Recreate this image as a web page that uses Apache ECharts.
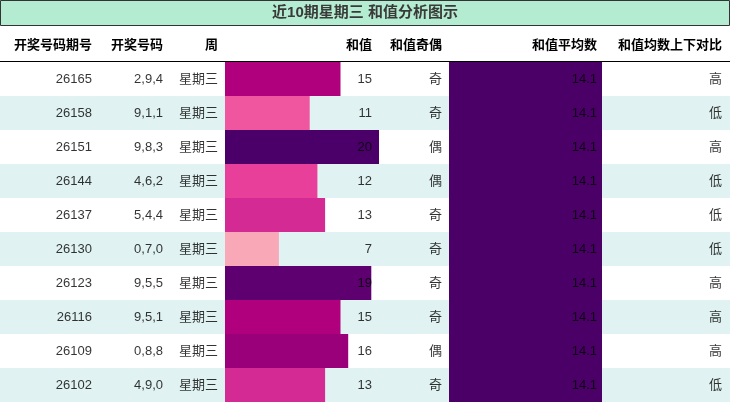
<!DOCTYPE html>
<html><head><meta charset="utf-8">
<script src="https://cdn.jsdelivr.net/npm/echarts@6/dist/echarts.min.js"></script>
<style>body{margin:0}#chart{width:730px;height:403px}</style></head>
<body><div id="chart"></div>
<script>
var periods = ['26165','26158','26151','26144','26137','26130','26123','26116','26109','26102'];
var numbers = ['2,9,4','9,1,1','9,8,3','4,6,2','5,4,4','0,7,0','9,5,5','9,5,1','0,8,8','4,9,0'];
var sums = [15, 11, 20, 12, 13, 7, 19, 15, 16, 13];
var parity = ['奇','奇','偶','偶','奇','奇','奇','奇','偶','奇'];
var avg = 14.1;
var compare = ['高','低','高','低','低','低','高','高','高','低'];
var sumColors = ['#b0007e','#f056a0','#4a0068','#e8409a','#d42a93','#f9a8b8','#5e0070','#b0007e','#9a007a','#d42a93'];
var headers = ['开奖号码期号','开奖号码','周','和值','和值奇偶','和值平均数','和值均数上下对比'];

var font = '"Liberation Sans","Noto Sans CJK SC",sans-serif';
var rows = periods.map(function(p, i){ return i; });
var chart = echarts.init(document.getElementById('chart'));

function textCol(x, texts, color) {
	return {
		type: 'scatter', xAxisIndex: 0, yAxisIndex: 0, symbolSize: 0, silent: true, z: 10,
		data: texts.map(function(t, i){ return [x, i, t]; }),
		label: { show: true, position: 'left', distance: 0, color: color || '#000',
			fontSize: 13, fontFamily: font, formatter: function(p){ return p.data[2]; } }
	};
}

var catAxis = function(idx){ return { type: 'category', data: rows, inverse: true, show: false, gridIndex: idx }; };

var option = {
	animation: false,
	grid: [
		{ left: 0, width: 730, top: 62, height: 340 },
		{ left: 225, width: 154, top: 62, height: 340 },
		{ left: 449, width: 153, top: 62, height: 340 }
	],
	xAxis: [
		{ type: 'value', min: 0, max: 730, show: false, gridIndex: 0 },
		{ type: 'value', min: 0, max: 20, show: false, gridIndex: 1 },
		{ type: 'value', min: 0, max: avg, show: false, gridIndex: 2 }
	],
	yAxis: [catAxis(0), catAxis(1), catAxis(2)],
	graphic: [
		{ type: 'rect', shape: { x: 0.5, y: 0.5, width: 729, height: 25 },
			style: { fill: '#b3ecd0', stroke: '#333', lineWidth: 1 } },
		{ type: 'text', x: 365, y: 13, style: { text: '近10期星期三 和值分析图示', align: 'center',
			verticalAlign: 'middle', font: 'bold 15px ' + font, fill: '#3a3a3a' } },
		{ type: 'line', shape: { x1: 0, y1: 61.5, x2: 730, y2: 61.5 }, style: { stroke: '#000', lineWidth: 1 } }
	].concat([92, 163, 218, 372, 442, 597, 722].map(function(x, i){
		return { type: 'text', x: x, y: 45, style: { text: headers[i], align: 'right', verticalAlign: 'middle',
			font: 'bold 13px ' + font, fill: '#000' } };
	})),
	series: [
		{ type: 'bar', xAxisIndex: 0, yAxisIndex: 0, barCategoryGap: 0, silent: true,
			data: rows.map(function(i){ return { value: 730, itemStyle: { color: i % 2 ? '#e0f2f1' : '#ffffff' } }; }) },
		{ type: 'bar', xAxisIndex: 1, yAxisIndex: 1, barCategoryGap: 0, silent: true,
			data: sums.map(function(v, i){ return { value: v, itemStyle: { color: sumColors[i] } }; }) },
		{ type: 'bar', xAxisIndex: 2, yAxisIndex: 2, barCategoryGap: 0, silent: true,
			data: rows.map(function(){ return { value: avg, itemStyle: { color: '#4b0068' } }; }) },
		textCol(92, periods),
		textCol(163, numbers),
		textCol(218, rows.map(function(){ return '星期三'; })),
		textCol(372, sums),
		textCol(442, parity),
		textCol(597, rows.map(function(){ return avg.toFixed(1); }), '#000'),
		textCol(722, compare)
	]
};
chart.setOption(option);
</script></body></html>
